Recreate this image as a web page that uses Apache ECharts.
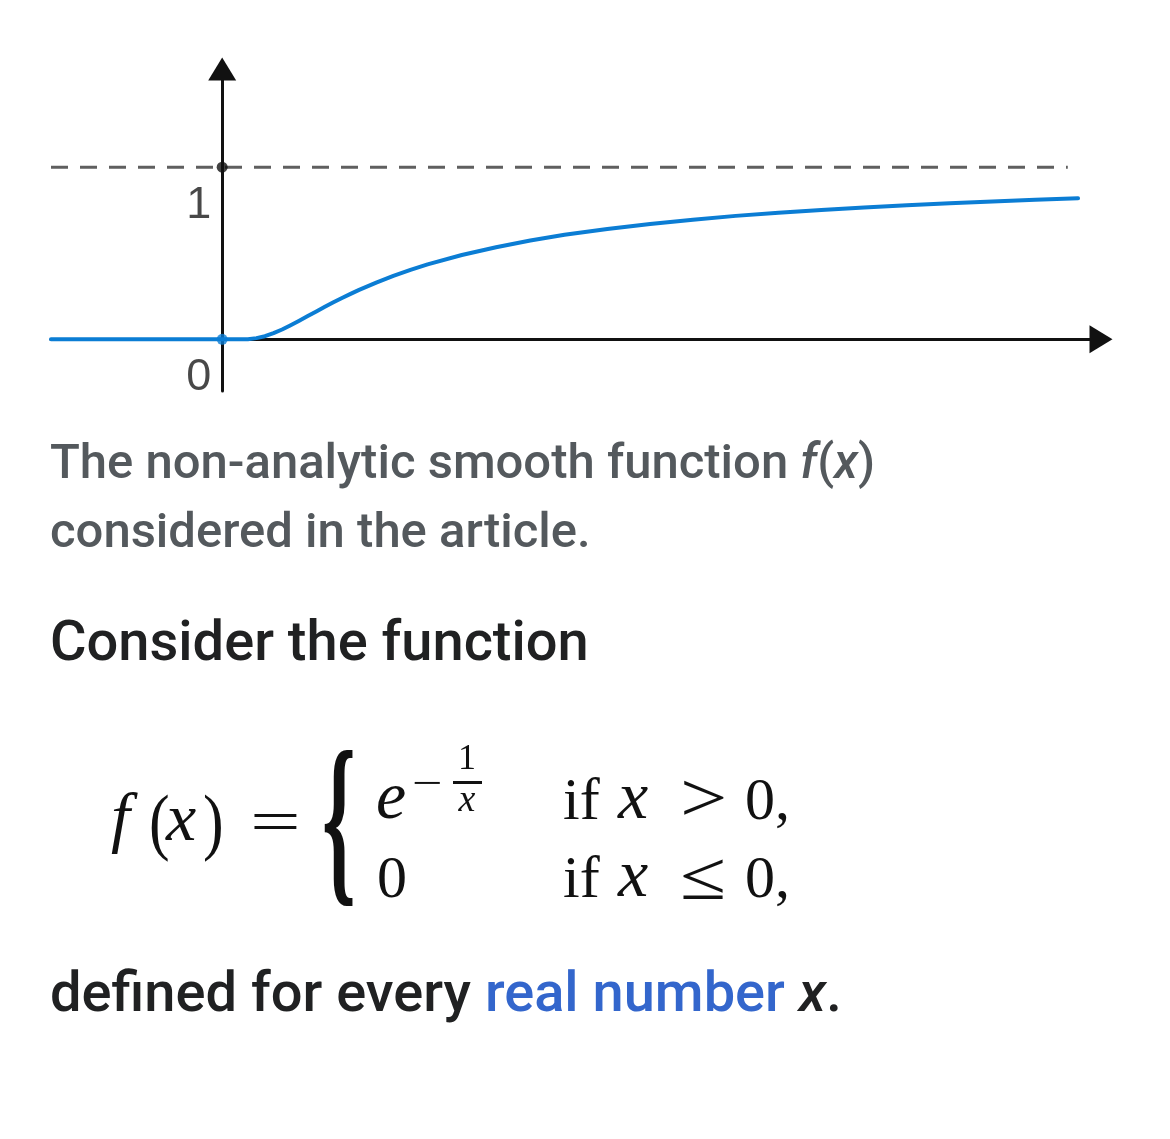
<!DOCTYPE html>
<html>
<head>
<meta charset="utf-8">
<script src="https://cdn.jsdelivr.net/npm/echarts@6/dist/echarts.min.js"></script>
<style>
html,body{margin:0;padding:0;background:#fff;}
#chart{width:1170px;height:1139px;}
</style>
</head>
<body>
<div id="chart"></div>
<script>
// ---- data ----
const curveX = [-1, -0.5, 0, 0.1, 0.15, 0.2, 0.25, 0.3, 0.35, 0.4, 0.45, 0.5, 0.55, 0.6, 0.65, 0.7, 0.75, 0.8, 0.9, 1.0, 1.1, 1.2, 1.4, 1.6, 1.8, 2.0, 2.25, 2.5, 2.75, 3.0, 3.25, 3.5, 3.75, 4.0, 4.25, 4.5, 4.75, 5.0];
const curveY = [0, 0, 0, 0, 0.001, 0.007, 0.018, 0.036, 0.057, 0.082, 0.108, 0.135, 0.162, 0.189, 0.215, 0.24, 0.264, 0.287, 0.329, 0.368, 0.403, 0.435, 0.490, 0.535, 0.574, 0.607, 0.641, 0.670, 0.695, 0.717, 0.735, 0.751, 0.766, 0.779, 0.790, 0.801, 0.810, 0.819];
const asymptoteX = [-1, 4.94];
const asymptoteY = [1, 1];
const yTickValues = [0, 1];
const markedPointsBlack = [[0, 1]];
const markedPointsBlue = [[0, 0]];

const captionLine1 = 'The non-analytic smooth function ';
const captionLine2 = 'considered in the article.';
const introText = 'Consider the function';
const outroStart = 'defined for every ';
const outroLink = 'real number';

// ---- chart ----
const chart = echarts.init(document.getElementById('chart'), null, {renderer: 'canvas'});
const BLUE = '#0b7dd4';
const INK = '#111';
const mathFont = '"Liberation Serif", "Times New Roman", serif';
const uiFont = 'Roboto, "Noto Sans", sans-serif';

function zipXY(xs, ys) { return xs.map((x, i) => [x, ys[i]]); }

// math text helper: place by baseline
function mt(text, x, baseline, size, extra) {
  extra = extra || {};
  const el = {
    type: 'text', x: x, y: baseline - 0.367 * size,
    style: {
      text: text, fontFamily: mathFont, fontSize: size, fill: INK,
      fontStyle: extra.italic ? 'italic' : 'normal',
      fontWeight: extra.bold ? 'bold' : 'normal',
      verticalAlign: 'middle', textAlign: extra.align || 'left'
    }
  };
  if (extra.sx) el.scaleX = extra.sx;
  if (extra.sy) el.scaleY = extra.sy;
  if (extra.y != null) el.y = extra.y;
  return el;
}

const bM = 847, b1 = 825, b2 = 903;
const R = 60, I = 68;

const option = {
  animation: false,
  backgroundColor: '#ffffff',
  grid: {left: 51, right: 69, top: 69, bottom: 748, containLabel: false},
  xAxis: {
    type: 'value', min: -1, max: 5.134,
    axisLine: {show: true, onZero: true, symbol: ['none', 'triangle'], symbolSize: [28, 23],
      lineStyle: {color: INK, width: 3}},
    axisTick: {show: false}, axisLabel: {show: false}, splitLine: {show: false}
  },
  yAxis: {
    type: 'value', min: -0.3, max: 1.57,
    axisLine: {show: true, onZero: true, symbol: ['none', 'triangle'], symbolSize: [28, 23],
      lineStyle: {color: INK, width: 3}},
    axisTick: {show: false}, splitLine: {show: false}, axisLabel: {show: false}
  },
  series: [
    {
      type: 'line', data: zipXY(asymptoteX, asymptoteY), symbol: 'none', z: 1,
      lineStyle: {color: '#5f5f5f', width: 3, type: [17, 12]}
    },
    {
      type: 'line', data: zipXY(curveX, curveY), symbol: 'none', smooth: false, z: 3,
      lineStyle: {color: BLUE, width: 4, cap: 'round', join: 'round'}
    },
    {
      type: 'scatter', data: markedPointsBlack, symbolSize: 11, z: 4,
      itemStyle: {color: INK}
    },
    {
      type: 'scatter', data: markedPointsBlue, symbolSize: 11, z: 4,
      itemStyle: {color: BLUE}
    },
    {
      // tick labels of the y axis, placed through the axis scale
      type: 'scatter', symbolSize: 0, z: 5, silent: true,
      data: yTickValues.map(v => ({value: [0, v], name: String(v)})),
      label: {
        show: true, position: 'left', distance: 11, offset: [0, 38],
        formatter: p => p.name,
        fontFamily: '"Liberation Sans", Arial, sans-serif', fontSize: 45, color: '#1a1a1a'
      }
    }
  ],
  graphic: [
    // caption
    {type: 'text', x: 50, y: 466, style: {
      text: '{a|' + captionLine1 + '}{i|f}{a|(}{i|x}{a|)}',
      verticalAlign: 'middle', textAlign: 'left',
      rich: {
        a: {fontFamily: uiFont, fontSize: 49, fontWeight: 500, fill: '#54595d'},
        i: {fontFamily: uiFont, fontSize: 49, fontWeight: 500, fontStyle: 'italic', fill: '#54595d'}
      }
    }},
    {type: 'text', x: 50, y: 535, style: {
      text: captionLine2, fontFamily: uiFont, fontSize: 49, fontWeight: 500, fill: '#54595d',
      verticalAlign: 'middle', textAlign: 'left'
    }},
    {type: 'text', x: 50, y: 646, style: {
      text: introText, fontFamily: uiFont, fontSize: 56, fontWeight: 500, fill: '#202122',
      verticalAlign: 'middle', textAlign: 'left'
    }},
    {type: 'text', x: 50, y: 997, style: {
      text: '{a|' + outroStart + '}{l|' + outroLink + '}{a| }{i|x}{a|.}',
      verticalAlign: 'middle', textAlign: 'left',
      rich: {
        a: {fontFamily: uiFont, fontSize: 56, fontWeight: 500, fill: '#202122'},
        l: {fontFamily: uiFont, fontSize: 56, fontWeight: 500, fill: '#3366cc'},
        i: {fontFamily: uiFont, fontSize: 56, fontWeight: 500, fontStyle: 'italic', fill: '#202122'}
      }
    }},
    // f(x) =
    mt('f', 111, bM, I, {italic: true}),
    mt('(', 149, bM, 62, {sy: 1.2, y: 826}),
    mt('x', 166, bM, I, {italic: true}),
    mt(')', 203, bM, 62, {sy: 1.2, y: 826}),
    mt('=', 250, bM, R, {sx: 1.5}),
    // brace
    {type: 'text', x: 322, y: 832, scaleX: 1.3, scaleY: 2.85,
      style: {text: '{', fontFamily: mathFont, fontWeight: 'bold', fontSize: 66, fill: INK, verticalAlign: 'middle'}},
    // row 1
    mt('e', 376, b1, I, {italic: true}),
    mt('\u2212', 412, 0, 40, {sx: 1.35, y: 785}),
    mt('1', 467, 773, 36, {align: 'center'}),
    {type: 'rect', shape: {x: 453, y: 781, width: 29, height: 3}, style: {fill: INK}},
    mt('x', 467, 815, 38, {italic: true, align: 'center'}),
    mt('if', 563, b1, R),
    mt('x', 618, b1, I, {italic: true}),
    mt('>', 680, b1, R, {sx: 1.4, sy: 1.15}),
    mt('0,', 745, b1, R),
    // row 2
    mt('0', 377, b2, R),
    mt('if', 563, b2, R),
    mt('x', 618, b2, I, {italic: true}),
    mt('\u2264', 680, b2, R, {sx: 1.4, sy: 1.15}),
    mt('0,', 745, b2, R)
  ]
};
chart.setOption(option);
</script>
</body>
</html>
